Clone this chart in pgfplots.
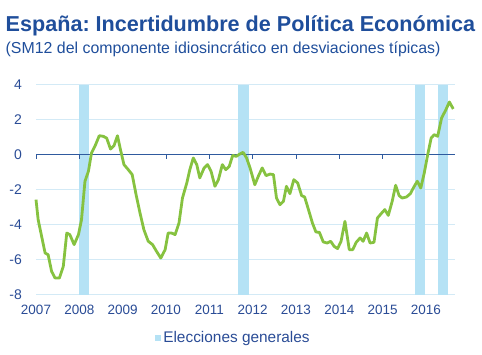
\documentclass[border=0pt]{standalone}
\usepackage{pgfplots}
\pgfplotsset{compat=1.18}
\usepackage{fontspec}
\setmainfont{Liberation Sans}
\frenchspacing
\definecolor{titleblue}{HTML}{1F4E9B}
\definecolor{tickblue}{HTML}{2A4C96}
\definecolor{zeroblue}{HTML}{2F5A9E}
\definecolor{gridblue}{HTML}{D3EAF6}
\definecolor{bandblue}{HTML}{B5E2F5}
\definecolor{linegreen}{HTML}{86C240}
\begin{document}
\begin{tikzpicture}
\useasboundingbox (0,0) rectangle (482pt,355pt);
\node[anchor=west, inner sep=0, text=titleblue, font=\fontsize{21.6}{23}\selectfont\bfseries] at (5.5pt,329pt) {España: Incertidumbre de Política Económica};
\node[anchor=west, inner sep=0, text=titleblue, font=\fontsize{15.9}{18}\selectfont] at (5.5pt,306pt) {(SM12 del componente idiosincrático en desviaciones típicas)};
\begin{axis}[
  at={(36pt,60pt)}, anchor=south west,
  scale only axis, width=419pt, height=210pt,
  xmin=2007, xmax=2016.67, ymin=-8, ymax=4,
  axis line style={draw=none},
  xtick={2007,2008,2009,2010,2011,2012,2013,2014,2015,2016}, ytick={-8,-6,-4,-2,0,2,4},
  xticklabels={2007,2008,2009,2010,2011,2012,2013,2014,2015,2016},
  major tick length=0pt,
  ymajorgrids, grid style={gridblue, line width=1pt},
  /pgf/number format/assume math mode=true,
  yticklabel style={font=\fontsize{14}{14}\selectfont, text=tickblue, anchor=east, inner sep=0pt, xshift=-14pt},
  xticklabel style={font=\fontsize{13.5}{13.5}\selectfont, text=tickblue, anchor=center, inner sep=0pt, yshift=-15pt},
  clip=false,
  legend style={at={(0.5,0)}, anchor=center, yshift=-43pt, xshift=-12pt, draw=none, fill=none, font=\fontsize{15.4}{15.4}\selectfont, text=tickblue, inner sep=0pt},
  legend cell align=left,
]
\addplot[fill=bandblue, draw=none, area legend, legend image code/.code={\fill[bandblue] (2pt,-3.5pt) rectangle (8pt,2.5pt);}] coordinates {(2008.0,-8) (2008.23,-8) (2008.23,4) (2008.0,4)};
\addlegendentry{Elecciones generales}
\addplot[fill=bandblue, draw=none, forget plot] coordinates {(2011.67,-8) (2011.92,-8) (2011.92,4) (2011.67,4)};
\addplot[fill=bandblue, draw=none, forget plot] coordinates {(2015.75,-8) (2015.98,-8) (2015.98,4) (2015.75,4)};
\addplot[fill=bandblue, draw=none, forget plot] coordinates {(2016.27,-8) (2016.51,-8) (2016.51,4) (2016.27,4)};
\addplot[zeroblue, line width=1pt, forget plot] coordinates {(2007,0) (2016.67,0)};
\pgfplotsinvokeforeach{2007,2008,2009,2010,2011,2012,2013,2014,2015,2016}{\draw[zeroblue, line width=0.8pt] (axis cs:#1,0) -- ([yshift=-4pt]axis cs:#1,0);}
\addplot[linegreen, line width=2.8pt, line join=round, forget plot] coordinates {
(2007.0,-2.55) (2007.05,-3.7) (2007.13,-4.65) (2007.21,-5.6) (2007.28,-5.7)
(2007.36,-6.65) (2007.44,-7.03) (2007.54,-7.03) (2007.63,-6.36) (2007.71,-4.46)
(2007.78,-4.55) (2007.88,-5.12) (2007.98,-4.55) (2008.05,-3.7) (2008.13,-1.5)
(2008.21,-0.93) (2008.28,0.11) (2008.36,0.5) (2008.46,1.1) (2008.55,1.07)
(2008.63,0.97) (2008.72,0.34) (2008.80,0.53) (2008.88,1.1) (2008.95,0.3)
(2009.03,-0.55) (2009.13,-0.84) (2009.22,-1.12) (2009.31,-2.27) (2009.40,-3.31)
(2009.49,-4.27) (2009.59,-4.93) (2009.69,-5.12) (2009.78,-5.5) (2009.88,-5.89)
(2009.98,-5.41) (2010.05,-4.46) (2010.13,-4.46) (2010.21,-4.55) (2010.30,-3.89)
(2010.38,-2.46) (2010.48,-1.6) (2010.55,-0.84) (2010.63,-0.17) (2010.71,-0.55)
(2010.78,-1.31) (2010.88,-0.74) (2010.96,-0.55) (2011.04,-0.93) (2011.13,-1.79)
(2011.21,-1.41) (2011.30,-0.55) (2011.38,-0.84) (2011.46,-0.65) (2011.54,-0.02)
(2011.62,-0.08) (2011.70,0.05) (2011.78,0.15) (2011.86,-0.17) (2011.94,-0.74)
(2012.05,-1.7) (2012.13,-1.22) (2012.22,-0.74) (2012.31,-1.18) (2012.40,-1.09)
(2012.48,-1.12) (2012.55,-2.46) (2012.63,-2.84) (2012.71,-2.65) (2012.78,-1.79)
(2012.86,-2.21) (2012.95,-1.41) (2013.04,-1.6) (2013.13,-2.32) (2013.20,-2.4)
(2013.30,-3.22) (2013.38,-3.89) (2013.46,-4.4) (2013.54,-4.42) (2013.63,-4.97)
(2013.72,-5.03) (2013.80,-4.93) (2013.88,-5.22) (2013.96,-5.35) (2014.04,-4.93)
(2014.13,-3.79) (2014.23,-5.41) (2014.31,-5.41) (2014.39,-4.99) (2014.48,-4.74)
(2014.55,-4.93) (2014.63,-4.46) (2014.71,-5.03) (2014.80,-4.99) (2014.88,-3.6)
(2014.98,-3.31) (2015.05,-3.12) (2015.13,-3.45) (2015.22,-2.65) (2015.30,-1.73)
(2015.38,-2.32) (2015.45,-2.46) (2015.55,-2.4) (2015.64,-2.21) (2015.72,-1.83)
(2015.80,-1.5) (2015.88,-1.89) (2015.96,-1.03) (2016.04,0.02) (2016.12,0.97)
(2016.19,1.16) (2016.27,1.07) (2016.36,2.11) (2016.46,2.59) (2016.54,3.03)
(2016.63,2.63)
};
\end{axis}
\end{tikzpicture}
\end{document}
